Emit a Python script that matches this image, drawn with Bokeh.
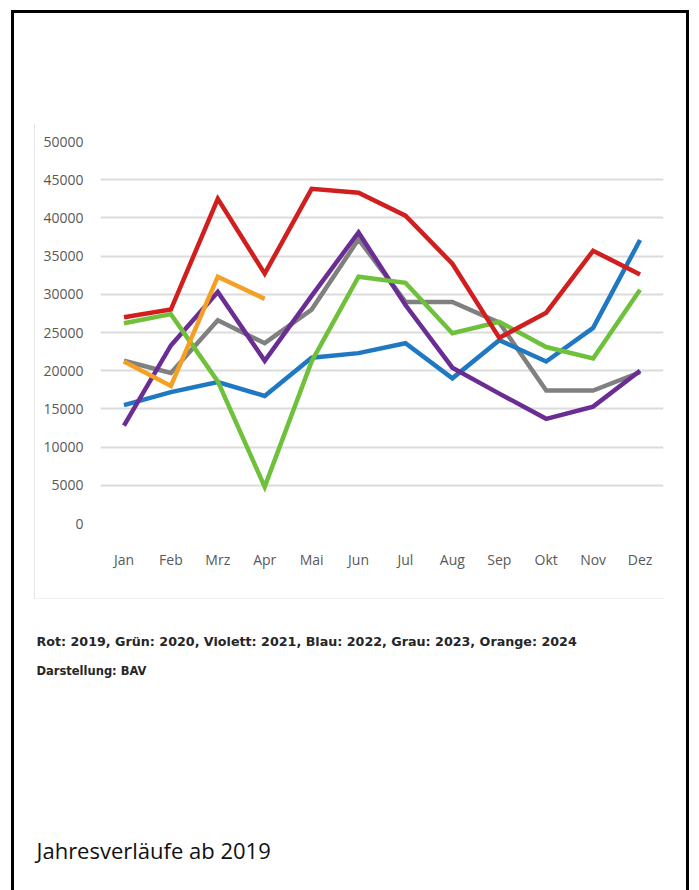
from bokeh.plotting import figure
from bokeh.models import Range1d, FixedTicker, Title
from bokeh.embed import file_html
from bokeh.resources import INLINE

months = ["Jan", "Feb", "Mrz", "Apr", "Mai", "Jun", "Jul", "Aug", "Sep", "Okt", "Nov", "Dez"]
v2019 = [27000, 28000, 42500, 32700, 43800, 43300, 40300, 34000, 24300, 27600, 35700, 32600]
v2020 = [26200, 27400, 18600, 4800, 21200, 32300, 31500, 24900, 26400, 23100, 21600, 30600]
v2021 = [12800, 23300, 30300, 21300, 29800, 38100, 28600, 20400, 17000, 13700, 15300, 20000]
v2022 = [15500, 17200, 18500, 16700, 21700, 22300, 23600, 19000, 24000, 21200, 25600, 37100]
v2023 = [21300, 19700, 26600, 23600, 28000, 37200, 29000, 29000, 26300, 17400, 17400, 19800]
v2024 = [21200, 18000, 32300, 29400]
y_ticks = [0, 5000, 10000, 15000, 20000, 25000, 30000, 35000, 40000, 45000, 50000]

legend_text = "Rot: 2019, Grün: 2020, Violett: 2021, Blau: 2022, Grau: 2023, Orange: 2024"
source_text = "Darstellung: BAV"
caption_text = "Jahresverläufe ab 2019"

W, H = 699, 890
FL, FR, FT, FB = 100, 663, 141, 523  # frame box in pixels

p = figure(width=W, height=H, output_backend="svg", toolbar_location=None,
           x_range=Range1d(-0.5, len(months) - 0.5), y_range=Range1d(0, 50000),
           min_border_left=FL, min_border_right=W - FR,
           min_border_top=FT, min_border_bottom=H - FB)
p.outline_line_color = None
p.background_fill_color = "white"
p.border_fill_color = None

xs = list(range(len(months)))
series = [
    (v2023, "#808080"),
    (v2022, "#1f78c2"),
    (v2021, "#6a2d94"),
    (v2020, "#6fc03a"),
    (v2019, "#d11f1f"),
    (v2024, "#f4a024"),
]
for vals, col in series:
    p.line(xs[:len(vals)], vals, line_color=col, line_width=4.5, line_join="miter")

# axes
p.xaxis.ticker = FixedTicker(ticks=xs)
p.xaxis.major_label_overrides = {i: m for i, m in enumerate(months)}
p.yaxis.ticker = FixedTicker(ticks=y_ticks)
for ax in (p.xaxis[0], p.yaxis[0]):
    ax.axis_line_color = None
    ax.major_tick_line_color = None
    ax.minor_tick_line_color = None
    ax.major_tick_out = 0
    ax.major_tick_in = 0
    ax.major_label_text_font = "Open Sans"
    ax.major_label_text_font_size = "14px"
    ax.major_label_text_color = "#595959"
p.yaxis.major_label_standoff = 17
p.xaxis.major_label_standoff = 26
p.xgrid.grid_line_color = None
p.ygrid.ticker = FixedTicker(ticks=y_ticks)
p.ygrid.grid_line_color = "#dcdcdc"
p.ygrid.grid_line_width = 2


def spacer(gap):
    return Title(text=" ", standoff=gap, text_font_size="1px", text_color="white")


# texts below the chart
p.add_layout(spacer(50), "below")
p.add_layout(Title(text=legend_text, align="left", offset=36 - FL, standoff=14,
                   text_font="DejaVu Sans", text_font_size="12.7px", text_font_style="bold",
                   text_color="#262626"), "below")
p.add_layout(Title(text=source_text, align="left", offset=36 - FL, standoff=12,
                   text_font="DejaVu Sans", text_font_size="11.5px", text_font_style="bold",
                   text_color="#262626"), "below")
p.add_layout(spacer(144), "below")
p.add_layout(Title(text=caption_text, align="left", offset=36 - FL, standoff=4,
                   text_font="Open Sans", text_font_size="22px", text_font_style="normal",
                   text_color="#111111"), "below")

# outer black frame and faint edge of the chart picture, drawn by CSS behind the canvas
g = "linear-gradient({c},{c}) {x}px {y}px / {w}px {h}px no-repeat"
p.styles = {
    "background": ", ".join([
        g.format(c="black", x=11, y=10, w=3, h=900),
        g.format(c="black", x=686, y=10, w=3, h=900),
        g.format(c="black", x=11, y=10, w=678, h=3),
        g.format(c="#e6e6e6", x=34, y=124, w=1, h=475),
        g.format(c="#eeeeee", x=34, y=598, w=630, h=1),
    ]) + ", white",
}

open("out.html", "w").write(file_html(p, INLINE))
